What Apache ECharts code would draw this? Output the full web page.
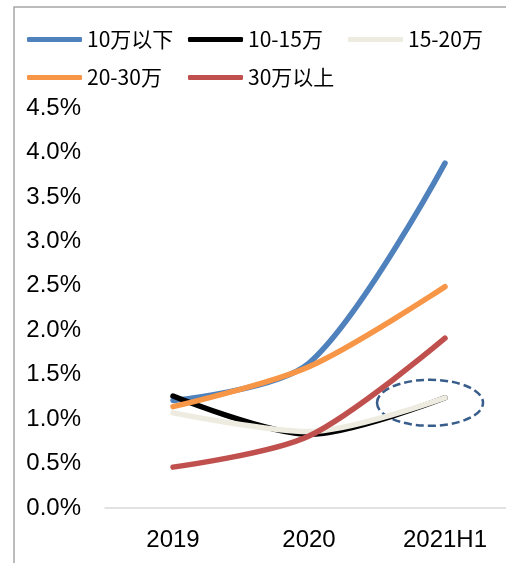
<!DOCTYPE html>
<html>
<head>
<meta charset="utf-8">
<script src="https://cdn.jsdelivr.net/npm/echarts@6/dist/echarts.min.js"></script>
<style>
html,body{margin:0;padding:0;background:#fff;}
#c{width:506px;height:563px;}
</style>
</head>
<body>
<div id="c"></div>
<script>
var categories = ['2019', '2020', '2021H1'];
var seriesNames = ['10万以下', '10-15万', '15-20万', '20-30万', '30万以上'];
var s10below = [1.21, 1.63, 3.88];
var s10to15 = [1.26, 0.83, 1.24];
var s15to20 = [1.07, 0.86, 1.24];
var s20to30 = [1.14, 1.59, 2.49];
var s30above = [0.46, 0.81, 1.91];
var yTicks = ['0.0%', '0.5%', '1.0%', '1.5%', '2.0%', '2.5%', '3.0%', '3.5%', '4.0%', '4.5%'];

var colors = ['#4f81bd', '#000000', '#eeece1', '#f79646', '#c0504d'];
var values = [s10below, s10to15, s15to20, s20to30, s30above];
var font = '"Noto Sans CJK SC", "Noto Sans", sans-serif';
var legendPos = [[27, 29], [188, 29], [348, 29], [27, 67], [188, 67]];

var chart = echarts.init(document.getElementById('c'));
var legends = seriesNames.map(function (n, i) {
  return {
    data: [n],
    left: legendPos[i][0],
    top: legendPos[i][1],
    padding: 0,
    icon: 'roundRect',
    itemWidth: 55,
    itemHeight: 5,
    itemGap: 0,
    selectedMode: false,
    textStyle: { fontSize: 21, color: '#000', fontFamily: font, padding: [0, 0, 0, 0] }
  };
});

var option = {
  animation: false,
  color: colors,
  legend: legends,
  grid: { left: 105, top: 108, width: 408, bottom: 55, containLabel: false, outerBoundsMode: 'none' },
  xAxis: {
    type: 'category',
    data: categories,
    boundaryGap: true,
    axisLine: { lineStyle: { color: '#d9d9d9', width: 1.5 } },
    axisTick: { show: false },
    axisLabel: { fontSize: 24, color: '#000', fontFamily: 'Liberation Sans, Arial, sans-serif', margin: 20 }
  },
  yAxis: {
    type: 'value',
    min: 0,
    max: 4.5,
    interval: 0.5,
    axisLine: { show: false },
    axisTick: { show: false },
    splitLine: { show: false },
    axisLabel: {
      fontSize: 24,
      color: '#000',
      fontFamily: 'Liberation Sans, Arial, sans-serif',
      margin: 24,
      formatter: function (v) { return yTicks[Math.round(v / 0.5)]; }
    }
  },
  series: seriesNames.map(function (n, i) {
    return {
      name: n,
      type: 'line',
      data: values[i],
      smooth: 0.3,
      showSymbol: false,
      symbol: 'none',
      lineStyle: { width: 5.5, color: colors[i], cap: 'round' },
      itemStyle: { color: colors[i] }
    };
  })
};
chart.setOption(option);

var p = chart.convertToPixel({ seriesIndex: 2 }, [2, s15to20[2]]);
chart.setOption({
  graphic: [
    {
      type: 'polyline',
      silent: true,
      shape: { points: [[14, 600], [14, 7], [520, 7]] },
      style: { stroke: '#a6a6a6', lineWidth: 1.5, fill: null }
    },
    {
      type: 'ellipse',
      silent: true,
      shape: { cx: p[0] - 15, cy: p[1] + 5, rx: 53, ry: 23 },
      style: { stroke: '#385d8a', lineWidth: 2.5, fill: null, lineDash: [8, 4] }
    }
  ]
});
</script>
</body>
</html>
